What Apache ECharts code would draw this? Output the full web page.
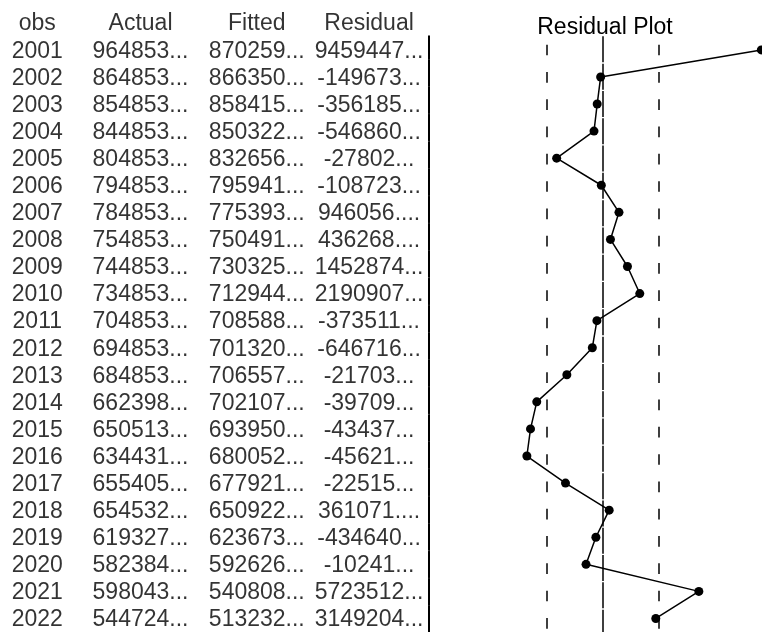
<!DOCTYPE html>
<html>
<head>
<meta charset="utf-8">
<script src="https://cdn.jsdelivr.net/npm/echarts@6/dist/echarts.min.js"></script>
<style>
html, body { margin: 0; padding: 0; background: #fff; }
#main { width: 762px; height: 632px; }
</style>
</head>
<body>
<div id="main"></div>
<script>
var headers = ['obs', 'Actual', 'Fitted', 'Residual'];
var years = ['2001', '2002', '2003', '2004', '2005', '2006', '2007', '2008', '2009', '2010', '2011',
	'2012', '2013', '2014', '2015', '2016', '2017', '2018', '2019', '2020', '2021', '2022'];
var actual = [964853, 864853, 854853, 844853, 804853, 794853, 784853, 754853, 744853, 734853, 704853,
	694853, 684853, 662398, 650513, 634431, 655405, 654532, 619327, 582384, 598043, 544724];
var fitted = [870259, 866350, 858415, 850322, 832656, 795941, 775393, 750491, 730325, 712944, 708588,
	701320, 706557, 702107, 693950, 680052, 677921, 650922, 623673, 592626, 540808, 513232];
// residual column as printed (truncated by the table)
var residualText = ['9459447', '-149673', '-356185', '-546860', '-27802', '-108723', '946056.', '436268.',
	'1452874', '2190907', '-373511', '-646716', '-21703', '-39709', '-43437', '-45621', '-22515',
	'361071.', '-434640', '-10241', '5723512', '3149204'];
// residual values used by the plot
var residual = [9459447, -149673, -356185, -546860, -2780200, -108723, 946056, 436268, 1452874, 2190907,
	-373511, -646716, -2170300, -3970900, -4343700, -4562100, -2251500, 361071, -434640, -1024100,
	5723512, 3149204];
var seReg = 3350000; // +/- 1 S.E. band

var font = 'Liberation Sans, Arial, sans-serif';
var rows = [''].concat(years);
var columns = [
	years,
	actual.map(function (v) { return v + '...'; }),
	fitted.map(function (v) { return v + '...'; }),
	residualText.map(function (v) { return v + '...'; })
];
var colOffsets = [2, -5, 1, 3];

var tableSeries = columns.map(function (col, c) {
	return {
		type: 'scatter',
		xAxisIndex: 0,
		yAxisIndex: 0,
		symbolSize: 1,
		silent: true,
		itemStyle: { color: 'rgba(0,0,0,0)' },
		label: {
			show: true,
			position: 'inside',
			offset: [colOffsets[c], 1.6],
			fontFamily: font,
			fontSize: 23,
			color: '#000',
			formatter: function (p) {
				return p.dataIndex === 0 ? headers[c] : col[p.dataIndex - 1];
			}
		},
		data: rows.map(function (r) { return [c, r]; })
	};
});

var chart = echarts.init(document.getElementById('main'));
var option = {
	animation: false,
	backgroundColor: '#fff',
	title: {
		text: 'Residual Plot',
		left: 600,
		top: 11,
		textAlign: 'center',
		textStyle: { fontFamily: font, fontSize: 23, fontWeight: 'normal', color: '#000' }
	},
	grid: [
		{ left: 0, top: 9, width: 430, height: 628 },
		{ left: 486.1, top: 36.35, width: 276.8, height: 600.6 },
		{ left: 0, top: 36.35, width: 429, height: 600.6 }
	],
	xAxis: [
		{ gridIndex: 0, type: 'value', min: -0.32, max: 3.58, show: false },
		{ gridIndex: 1, type: 'value', min: -7000000, max: 9500000, show: false },
		{ gridIndex: 2, type: 'value', show: false }
	],
	yAxis: [
		{ gridIndex: 0, type: 'category', data: rows, inverse: true, show: false },
		{ gridIndex: 1, type: 'category', data: years, inverse: true, show: false },
		{
			gridIndex: 2, type: 'value', position: 'right',
			axisLine: { show: true, onZero: false, lineStyle: { color: '#000', width: 2, type: [26, 1.3] } },
			axisTick: { show: false }, axisLabel: { show: false }, splitLine: { show: false }
		}
	],
	series: tableSeries.concat([{
		name: 'Residual',
		type: 'line',
		xAxisIndex: 1,
		yAxisIndex: 1,
		clip: false,
		symbol: 'circle',
		symbolSize: 9,
		itemStyle: { color: '#000' },
		lineStyle: { color: '#000', width: 1.5 },
		data: residual.map(function (v, i) { return [v, years[i]]; }),
		markLine: {
			silent: true,
			symbol: 'none',
			label: { show: false },
			lineStyle: { color: '#000', width: 1.5 },
			data: [
				{ xAxis: 0, lineStyle: { type: [26, 1.3] } },
				{ xAxis: -seReg, lineStyle: { type: [10.7, 16.6], dashOffset: 19 } },
				{ xAxis: seReg, lineStyle: { type: [10.7, 16.6], dashOffset: 19 } }
			]
		}
	}])
};
chart.setOption(option);
</script>
</body>
</html>
